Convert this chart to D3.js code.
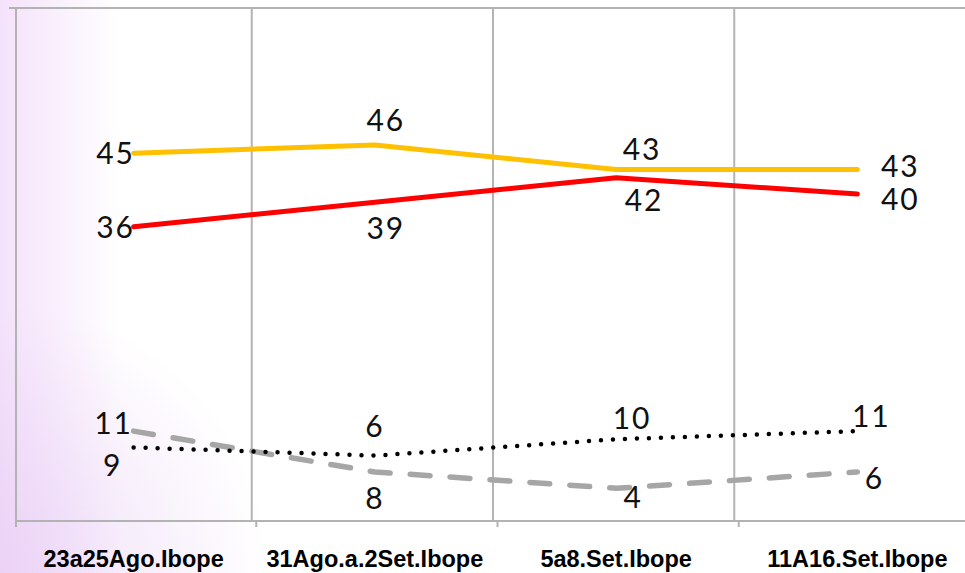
<!DOCTYPE html>
<html>
<head>
<meta charset="utf-8">
<script src="https://cdn.jsdelivr.net/npm/d3@7"></script>
<style>
  html, body { margin: 0; padding: 0; background: #fff; }
  svg { display: block; }
</style>
</head>
<body>
<div id="chart"></div>
<script>
// --- data ---
const categories = ["23a25Ago.Ibope", "31Ago.a.2Set.Ibope", "5a8.Set.Ibope", "11A16.Set.Ibope"];
const yellowValues = [45, 46, 43, 43];
const redValues = [36, 39, 42, 40];
const dottedValues = [9, 8, 10, 11];
const dashedValues = [11, 6, 4, 6];
// labels as printed on the picture
const yellowLabels = ["45", "46", "43", "43"];
const redLabels = ["36", "39", "42", "40"];
const dottedLabels = ["9", "6", "10", "11"];
const dashedLabels = ["11", "8", "4", "6"];

const width = 965, height = 573;
const svg = d3.select("#chart").append("svg")
  .attr("width", width).attr("height", height);

// background wash: lilac on the left edge, deeper at the bottom
const defs = svg.append("defs");
const hgrad = defs.append("linearGradient").attr("id", "bgH")
  .attr("gradientUnits", "userSpaceOnUse")
  .attr("x1", 0).attr("y1", 0).attr("x2", 120).attr("y2", 0);
hgrad.append("stop").attr("offset", "0").attr("stop-color", "#f4e2fb");
hgrad.append("stop").attr("offset", "1").attr("stop-color", "#ffffff");
const rgrad = defs.append("radialGradient").attr("id", "bgR")
  .attr("gradientUnits", "userSpaceOnUse")
  .attr("cx", 0).attr("cy", height).attr("r", 270);
rgrad.append("stop").attr("offset", "0").attr("stop-color", "#e6c9f4").attr("stop-opacity", 0.65);
rgrad.append("stop").attr("offset", "1").attr("stop-color", "#e6c9f4").attr("stop-opacity", 0);
svg.append("rect").attr("width", width).attr("height", height).attr("fill", "url(#bgH)");
svg.append("rect").attr("width", width).attr("height", height).attr("fill", "url(#bgR)");

const plotLeft = 16, plotTop = 8, plotBottom = 521;

// --- scales ---
const x = d3.scaleBand().domain(categories).range([13, 978]);
const cx = d => x(d) + x.bandwidth() / 2;
const y = d3.scaleLinear().domain([0, 46]).range([plotBottom, 145]);

// --- frame & gridlines ---
const grid = "#b3b3b3";
svg.append("line").attr("x1", 9).attr("x2", width).attr("y1", plotTop).attr("y2", plotTop)
  .attr("stroke", grid).attr("stroke-width", 2);
svg.selectAll(".vgrid").data(categories.slice(1)).enter().append("line")
  .attr("x1", d => x(d) - 2.5).attr("x2", d => x(d) - 2.5)
  .attr("y1", plotTop).attr("y2", plotBottom)
  .attr("stroke", grid).attr("stroke-width", 2);

// x axis
const xAxis = svg.append("g").attr("transform", `translate(0,${plotBottom})`);
xAxis.append("line").attr("x1", plotLeft).attr("x2", width).attr("stroke", grid).attr("stroke-width", 2);
xAxis.selectAll(".tick").data(categories).enter().append("line")
  .attr("x1", (d, i) => i === 0 ? plotLeft : x(d) + 2)
  .attr("x2", (d, i) => i === 0 ? plotLeft : x(d) + 2)
  .attr("y1", 0).attr("y2", 6).attr("stroke", grid).attr("stroke-width", 2);
xAxis.selectAll(".lab").data(categories).enter().append("text")
  .attr("x", d => cx(d)).attr("y", 46)
  .attr("text-anchor", "middle")
  .attr("font-family", "Liberation Sans, Arial, sans-serif")
  .attr("font-weight", "bold").attr("font-size", 23.5)
  .attr("fill", "#000")
  .text(d => d);

// left axis
svg.append("line").attr("x1", plotLeft).attr("x2", plotLeft)
  .attr("y1", plotTop).attr("y2", plotBottom + 6)
  .attr("stroke", grid).attr("stroke-width", 2);

// --- lines ---
const line = d3.line().x((d, i) => cx(categories[i])).y(d => y(d));

// label offsets (centre of label relative to its point)
const series = [
  { values: dashedValues, labels: dashedLabels, color: "#a6a6a6", w: 5.5, dash: "20,20",
    off: [[-21, -8], [-1, 26], [16, 9], [16, 6]] },
  { values: dottedValues, labels: dottedLabels, color: "#000", w: 4.5, dash: "0,12",
    off: [[-22, 18], [-1, -29], [15, -21], [13, -15]] },
  { values: redValues, labels: redLabels, color: "#ff0000", w: 5, dash: null,
    off: [[-19, 0], [10, 26], [27, 23], [42, 5]] },
  { values: yellowValues, labels: yellowLabels, color: "#ffc000", w: 5, dash: null,
    off: [[-19, 0], [10, -25], [25, -20], [42, -3]] }
];

series.forEach(s => {
  svg.append("path").datum(s.values)
    .attr("d", line)
    .attr("fill", "none")
    .attr("stroke", s.color)
    .attr("stroke-width", s.w)
    .attr("stroke-linecap", "round")
    .attr("stroke-linejoin", "round")
    .attr("stroke-dasharray", s.dash);
});

// data labels
series.forEach(s => {
  svg.selectAll(null).data(s.values).enter().append("text")
    .attr("x", (v, i) => cx(categories[i]) + s.off[i][0] + 1)
    .attr("y", (v, i) => y(v) + s.off[i][1])
    .attr("dy", "0.36em")
    .attr("text-anchor", "middle")
    .attr("font-family", "Lato, Open Sans, sans-serif")
    .attr("font-weight", 400)
    .attr("font-size", 30)
    .attr("letter-spacing", 2)
    .attr("fill", "#111")
    .text((v, i) => s.labels[i]);
});
</script>
</body>
</html>
